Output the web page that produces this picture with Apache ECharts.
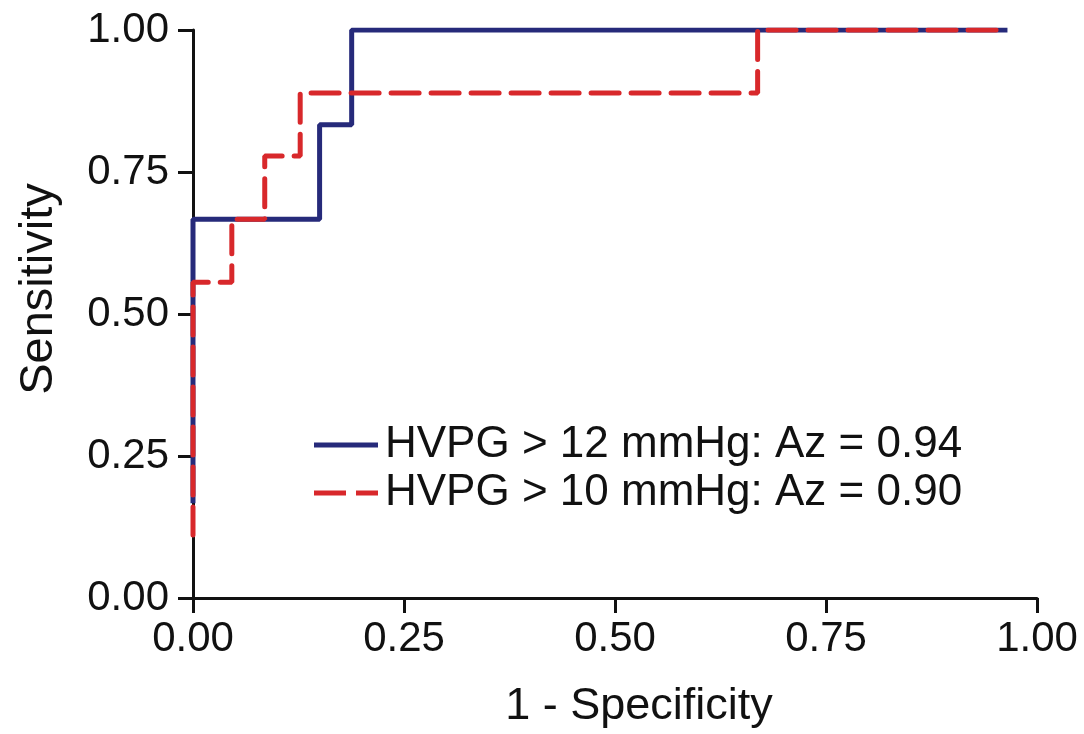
<!DOCTYPE html>
<html>
<head>
<meta charset="utf-8">
<script src="https://cdn.jsdelivr.net/npm/echarts@6/dist/echarts.min.js"></script>
<style>
  html, body { margin: 0; padding: 0; background: #fff; }
  #chart { width: 1084px; height: 734px; }
</style>
</head>
<body>
<div id="chart"></div>
<script>
// ROC curves: corner points of each step curve as [1 - specificity, sensitivity]
const hvpg12Fpr = [0, 0, 0.150, 0.150, 0.188, 0.188, 0.965];
const hvpg12Tpr = [0.167, 0.667, 0.667, 0.833, 0.833, 1.000, 1.000];

const hvpg10Fpr = [0, 0, 0.046, 0.046, 0.085, 0.085, 0.127, 0.127, 0.669, 0.669, 0.965];
const hvpg10Tpr = [0.111, 0.556, 0.556, 0.667, 0.667, 0.778, 0.778, 0.889, 0.889, 1.000, 1.000];

const seriesNames = ['HVPG > 12 mmHg: Az = 0.94', 'HVPG > 10 mmHg: Az = 0.90'];
const axisTicks = [0, 0.25, 0.5, 0.75, 1];

const zip = (xs, ys) => xs.map((x, i) => [x, ys[i]]);

const FONT = '"Liberation Sans", Arial, Helvetica, sans-serif';
const BLUE = '#262a7a';
const RED = '#d8282b';

// legend keys: a solid bar and a two-dash bar
const SOLID_KEY = 'path://M0,0H64V5H0Z';
const DASHED_KEY = 'path://M0,0H32V5H0Z M42,0H64V5H42Z';

const axisCommon = {
  type: 'value',
  min: axisTicks[0],
  max: axisTicks[axisTicks.length - 1],
  interval: axisTicks[1] - axisTicks[0],
  splitLine: { show: false },
  axisLine: { show: true, lineStyle: { color: '#111', width: 3 } },
  axisTick: { show: true, length: 15, lineStyle: { color: '#111', width: 3 } },
  axisLabel: {
    color: '#111',
    fontFamily: FONT,
    fontSize: 42,
    formatter: v => v.toFixed(2)
  },
  nameLocation: 'middle'
};

const chart = echarts.init(document.getElementById('chart'), null, { renderer: 'canvas' });

chart.setOption({
  animation: false,
  backgroundColor: '#fff',
  grid: { left: 193, right: 47, top: 30, bottom: 134 },
  xAxis: Object.assign({}, axisCommon, {
    name: '1 - Specificity',
    nameGap: 86,
    nameTextStyle: { color: '#111', fontFamily: FONT, fontSize: 45, padding: [0, 0, 0, 48] },
    axisLabel: Object.assign({}, axisCommon.axisLabel, { margin: 20 })
  }),
  yAxis: Object.assign({}, axisCommon, {
    name: 'Sensitivity',
    nameGap: 130,
    nameTextStyle: { color: '#111', fontFamily: FONT, fontSize: 47, padding: [0, 0, 0, 50] },
    axisLabel: Object.assign({}, axisCommon.axisLabel, { margin: 24 })
  }),
  legend: {
    left: 309,
    top: 418,
    orient: 'vertical',
    itemWidth: 64,
    itemHeight: 5,
    itemGap: 4,
    textStyle: { color: '#111', fontFamily: FONT, fontSize: 44, lineHeight: 44, padding: [0, 0, 0, 2] },
    data: [
      { name: seriesNames[0], icon: SOLID_KEY, itemStyle: { color: BLUE } },
      { name: seriesNames[1], icon: DASHED_KEY, itemStyle: { color: RED } }
    ]
  },
  series: [
    {
      name: seriesNames[0],
      type: 'line',
      symbol: 'none',
      z: 3,
      data: zip(hvpg12Fpr, hvpg12Tpr),
      lineStyle: { color: BLUE, width: 5 },
      itemStyle: { color: BLUE }
    },
    {
      name: seriesNames[1],
      type: 'line',
      symbol: 'none',
      z: 4,
      data: zip(hvpg10Fpr, hvpg10Tpr),
      lineStyle: { color: RED, width: 5, type: [28, 12], cap: 'round' },
      itemStyle: { color: RED }
    }
  ]
});
</script>
</body>
</html>
